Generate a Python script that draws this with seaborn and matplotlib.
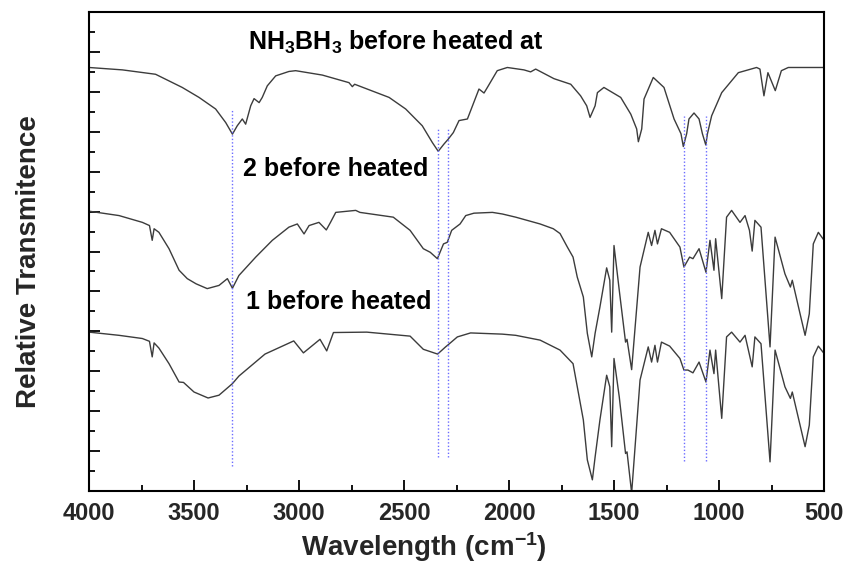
import matplotlib
matplotlib.use("Agg")
import matplotlib.pyplot as plt
import seaborn as sns
import pandas as pd
from matplotlib.ticker import MultipleLocator

# ---------------- data ----------------
wn_top = [4000, 3841, 3683, 3556, 3476, 3397, 3349, 3317, 3294, 3270, 3254, 3230, 3214,
          3190, 3175, 3151, 3111, 3048, 3016, 2889, 2762, 2746, 2735, 2571, 2492, 2413,
          2365, 2337, 2310, 2290, 2265, 2238, 2198, 2143, 2119, 2103, 2056, 2008, 1929,
          1897, 1873, 1786, 1706, 1659, 1630, 1614, 1590, 1579, 1548, 1468, 1420, 1392,
          1384, 1368, 1357, 1313, 1262, 1214, 1181, 1170, 1154, 1143, 1119, 1095, 1079,
          1063, 1055, 1035, 987, 908, 821, 805, 786, 767, 732, 703, 670, 500]
tr_top = [10.61, 10.55, 10.44, 10.11, 9.86, 9.57, 9.23, 8.94, 9.15, 9.32, 9.19, 9.65, 9.83,
          9.73, 9.86, 10.15, 10.40, 10.51, 10.53, 10.42, 10.23, 10.13, 10.19, 9.86, 9.57, 9.15,
          8.73, 8.51, 8.69, 8.81, 8.98, 9.28, 9.32, 10.07, 9.97, 10.11, 10.53, 10.61, 10.55,
          10.50, 10.57, 10.33, 10.19, 9.90, 9.65, 9.36, 9.65, 9.98, 10.11, 9.86, 9.44, 9.07,
          8.75, 9.07, 9.82, 10.36, 10.11, 9.32, 8.95, 8.63, 8.95, 9.32, 9.47, 9.32, 8.95,
          8.67, 8.95, 9.40, 9.98, 10.48, 10.61, 10.57, 9.90, 10.48, 10.03, 10.53, 10.61, 10.61]

wn_mid = [4000, 3857, 3746, 3712, 3699, 3690, 3667, 3619, 3571, 3532, 3490, 3437, 3381,
          3341, 3317, 3286, 3206, 3127, 3048, 3008, 2976, 2952, 2905, 2870, 2850, 2825,
          2730, 2710, 2551, 2471, 2408, 2375, 2341, 2312, 2294, 2273, 2233, 2206, 2167,
          2079, 2032, 1968, 1852, 1789, 1757, 1722, 1695, 1675, 1646, 1627, 1606, 1590,
          1567, 1535, 1520, 1511, 1500, 1475, 1445, 1438, 1416, 1376, 1337, 1321, 1305,
          1293, 1274, 1235, 1186, 1167, 1140, 1124, 1095, 1062, 1043, 1024, 1016, 987, 964,
          940, 900, 876, 855, 842, 829, 800, 757, 733, 686, 660, 651, 614, 590, 570, 551,
          527, 505, 500]
tr_mid = [7.01, 6.90, 6.73, 6.65, 6.28, 6.57, 6.48, 6.07, 5.53, 5.32, 5.19, 5.07, 5.15,
          5.32, 5.08, 5.40, 5.86, 6.28, 6.61, 6.69, 6.44, 6.65, 6.73, 6.54, 6.73, 6.98,
          7.03, 6.98, 6.86, 6.53, 6.07, 5.98, 5.82, 6.19, 6.23, 6.53, 6.69, 6.90, 6.96,
          6.98, 6.94, 6.86, 6.69, 6.57, 6.45, 6.11, 5.86, 5.36, 4.86, 3.95, 3.36, 3.95,
          4.61, 5.59, 5.28, 3.98, 6.15, 5.03, 3.73, 3.80, 3.04, 5.61, 6.48, 6.15, 6.53,
          6.19, 6.57, 6.48, 6.11, 5.61, 5.86, 5.82, 6.07, 5.48, 6.28, 5.53, 6.32, 4.82, 6.86,
          7.03, 6.73, 6.90, 6.53, 6.01, 6.78, 6.61, 3.61, 6.36, 5.44, 5.11, 5.28, 4.44, 3.90,
          4.44, 6.19, 6.48, 6.32, 6.28]

wn_bot = [4000, 3857, 3746, 3712, 3699, 3690, 3667, 3619, 3571, 3550, 3500, 3433, 3381,
          3317, 3286, 3162, 3025, 2979, 2900, 2868, 2836, 2677, 2471, 2408, 2340, 2302,
          2286, 2246, 2183, 2032, 1968, 1852, 1757, 1695, 1646, 1627, 1603, 1590, 1567,
          1535, 1520, 1511, 1500, 1475, 1445, 1438, 1416, 1376, 1337, 1321, 1305, 1293,
          1274, 1235, 1186, 1167, 1148, 1124, 1095, 1062, 1043, 1024, 1016, 987, 964, 940,
          900, 876, 842, 829, 800, 757, 733, 686, 660, 651, 614, 590, 570, 551, 527, 505, 500]
tr_bot = [3.98, 3.90, 3.82, 3.75, 3.36, 3.71, 3.58, 3.19, 2.73, 2.72, 2.48, 2.33, 2.40,
          2.69, 2.88, 3.43, 3.76, 3.46, 3.80, 3.51, 3.97, 3.98, 3.88, 3.55, 3.43, 3.61,
          3.68, 3.86, 3.96, 3.93, 3.90, 3.78, 3.53, 3.19, 1.78, 0.78, 0.28, 0.85, 1.78,
          2.90, 2.61, 1.11, 3.32, 2.36, 0.94, 0.98, -0.05, 2.78, 3.61, 3.23, 3.65, 3.23,
          3.73, 3.63, 3.32, 3.03, 3.03, 2.96, 3.23, 2.73, 3.53, 2.94, 3.53, 1.82, 3.86, 3.98,
          3.73, 3.90, 3.11, 3.86, 3.69, 0.73, 3.53, 2.61, 2.32, 2.48, 1.65, 1.11, 1.65, 3.36,
          3.63, 3.48, 3.45]

vline_x = [3317, 2340, 2290, 1168, 1063]
vline_top = [9.58, 9.08, 9.08, 9.40, 9.40]
vline_bottom = [0.63, 0.85, 0.85, 0.75, 0.75]

labels = [r"NH$_\mathbf{3}$BH$_\mathbf{3}$ before heated at", "2 before heated", "1 before heated"]
label_x = [3243, 3267, 3252]
label_y = [11.25, 8.07, 4.74]

x_ticks = [4000, 3500, 3000, 2500, 2000, 1500, 1000, 500]

# ---------------- style ----------------
sns.set_theme(style="white")
plt.rcParams["font.family"] = ["Liberation Sans", "DejaVu Sans"]
plt.rcParams["mathtext.fontset"] = "custom"
plt.rcParams["mathtext.rm"] = "Liberation Sans:bold"
plt.rcParams["mathtext.bf"] = "Liberation Sans:bold"
plt.rcParams["mathtext.default"] = "bf"

fig = plt.figure(figsize=(8.48, 5.68), dpi=100)
ax = fig.add_axes([89 / 848, 77 / 568, 735 / 848, 479 / 568])

line_color = "#3c3c3c"
for wn, tr in [(wn_top, tr_top), (wn_mid, tr_mid), (wn_bot, tr_bot)]:
    df = pd.DataFrame({"wn": wn, "tr": tr})
    sns.lineplot(data=df, x="wn", y="tr", ax=ax, color=line_color, linewidth=1.0,
                 estimator=None, sort=False)

ax.vlines(vline_x, vline_bottom, vline_top, colors="#6b6bff", linestyles=(0, (1, 1.5)),
          linewidth=1.0)

for t, lx, ly in zip(labels, label_x, label_y):
    ax.text(lx, ly, t, fontsize=18, fontweight="bold", ha="left", va="center", color="black")

ax.set_xlim(4000, 500)
ax.set_ylim(0, 12)
ax.set_xticks(x_ticks)
ax.set_xticklabels([str(v) for v in x_ticks], fontsize=17, fontweight="bold")
ax.xaxis.set_minor_locator(MultipleLocator(250))
ax.yaxis.set_major_locator(MultipleLocator(1))
ax.yaxis.set_minor_locator(MultipleLocator(0.5))
ax.set_yticklabels([])
ax.tick_params(axis="both", which="major", direction="in", length=8, width=1.3,
               color="black", pad=8, bottom=True, left=True, top=False, right=False)
ax.tick_params(axis="both", which="minor", direction="in", length=4.5, width=1.3,
               color="black", bottom=True, left=True, top=False, right=False)

for s in ax.spines.values():
    s.set_color("black")
    s.set_linewidth(1.5)
    s.set_visible(True)

ax.set_xlabel(r"Wavelength (cm$^{\mathbf{-1}}$)", fontsize=20, fontweight="bold",
              labelpad=4, x=0.456)
ax.set_ylabel("Relative Transmitence", fontsize=20, fontweight="bold", labelpad=26,
              y=0.478)

fig.savefig("out.png", dpi=100, facecolor="white")
